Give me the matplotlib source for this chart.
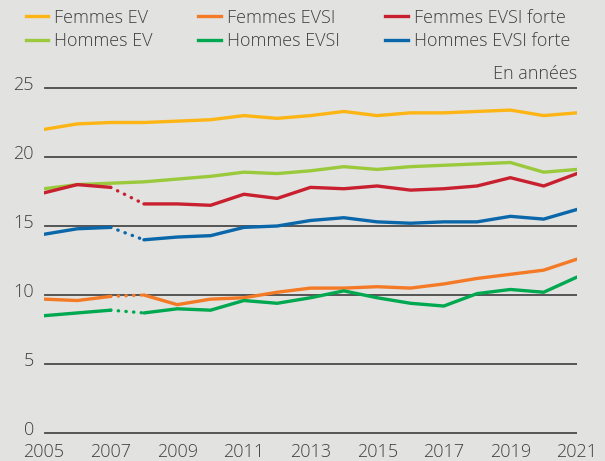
import matplotlib
matplotlib.use("Agg")
import matplotlib.pyplot as plt
from matplotlib.lines import Line2D

plt.rcParams['font.family'] = ['Open Sans', 'DejaVu Sans']
plt.rcParams['font.weight'] = 'light'

years = list(range(2005, 2022))
femmes_ev = [22.0, 22.4, 22.5, 22.5, 22.6, 22.7, 23.0, 22.8, 23.0, 23.3, 23.0, 23.2, 23.2, 23.3, 23.4, 23.0, 23.2]
hommes_ev = [17.7, 18.0, 18.1, 18.2, 18.4, 18.6, 18.9, 18.8, 19.0, 19.3, 19.1, 19.3, 19.4, 19.5, 19.6, 18.9, 19.1]
femmes_evsi = [9.7, 9.6, 9.9, 10.0, 9.3, 9.7, 9.8, 10.2, 10.5, 10.5, 10.6, 10.5, 10.8, 11.2, 11.5, 11.8, 12.6]
hommes_evsi = [8.5, 8.7, 8.9, 8.7, 9.0, 8.9, 9.6, 9.4, 9.8, 10.3, 9.8, 9.4, 9.2, 10.1, 10.4, 10.2, 11.3]
femmes_evsi_forte = [17.4, 18.0, 17.8, 16.6, 16.6, 16.5, 17.3, 17.0, 17.8, 17.7, 17.9, 17.6, 17.7, 17.9, 18.5, 17.9, 18.8]
hommes_evsi_forte = [14.4, 14.8, 14.9, 14.0, 14.2, 14.3, 14.9, 15.0, 15.4, 15.6, 15.3, 15.2, 15.3, 15.3, 15.7, 15.5, 16.2]

labels = ["Femmes EV", "Hommes EV", "Femmes EVSI", "Hommes EVSI", "Femmes EVSI forte", "Hommes EVSI forte"]
series = [femmes_ev, hommes_ev, femmes_evsi, hommes_evsi, femmes_evsi_forte, hommes_evsi_forte]
colors = ["#FDB515", "#9BC93C", "#F47A25", "#00A84F", "#C8202F", "#0A67A9"]
broken = [False, False, True, True, True, True]
break_year = 2007  # series change between 2007 and 2008

yticks = [0, 5, 10, 15, 20, 25]
xticks = list(range(2005, 2022, 2))

W, H = 605, 461
fig = plt.figure(figsize=(W / 100, H / 100), dpi=100)
bg = "#E2E2E1"
fig.patch.set_facecolor(bg)

ylo, yhi = -0.5, 26.0
ppu = 13.8
bottom_px = 433 + (0 - ylo) * ppu
top_px = 88 - (yhi - 25) * ppu
ax = fig.add_axes([44 / W, (H - bottom_px) / H, 533 / W, (bottom_px - top_px) / H])
ax.set_facecolor(bg)
ax.set_xlim(2005, 2021)
ax.set_ylim(ylo, yhi)
for s in ax.spines.values():
    s.set_visible(False)

fs = 13
txtc = "#404040"
for yv in yticks:
    ax.axhline(yv, xmin=0.002, xmax=1, color="#4A4A4A", lw=1.3, zorder=1)
    ax.annotate(str(yv), xy=(0, yv), xycoords=("axes fraction", "data"),
                xytext=(-10, 3), textcoords="offset pixels",
                ha="right", va="center", fontsize=fs, color=txtc)
ax.set_yticks([])
ax.set_xticks(xticks)
ax.set_xticklabels([str(x) for x in xticks], fontsize=fs, color=txtc)
ax.tick_params(axis="x", length=0, pad=2)

lw = 2.4
bi = years.index(break_year)
for vals, c, br, lab in zip(series, colors, broken, labels):
    if br:
        ax.plot(years[:bi + 1], vals[:bi + 1], color=c, lw=lw, solid_capstyle="round", zorder=3)
        ax.plot(years[bi:bi + 2], vals[bi:bi + 2], color=c, lw=lw, linestyle=(0, (0.1, 2.2)),
                dash_capstyle="round", zorder=3)
        ax.plot(years[bi + 1:], vals[bi + 1:], color=c, lw=lw, solid_capstyle="round", zorder=3)
    else:
        ax.plot(years, vals, color=c, lw=lw, solid_capstyle="round", zorder=3)

ax.text(2021, 25.35, "En années", ha="right", va="bottom", fontsize=fs, color=txtc)

handles = [Line2D([], [], color=c, lw=2.4) for c in colors]
fig.legend(handles, labels, ncol=3, loc="upper left", bbox_to_anchor=(22 / W, 1 - 5 / H),
           frameon=False, fontsize=fs, handlelength=1.25, handletextpad=0.35,
           columnspacing=2.5, labelspacing=0.3, borderaxespad=0, borderpad=0.2,
           labelcolor=txtc)

fig.savefig("out.png", dpi=100, facecolor=bg)
